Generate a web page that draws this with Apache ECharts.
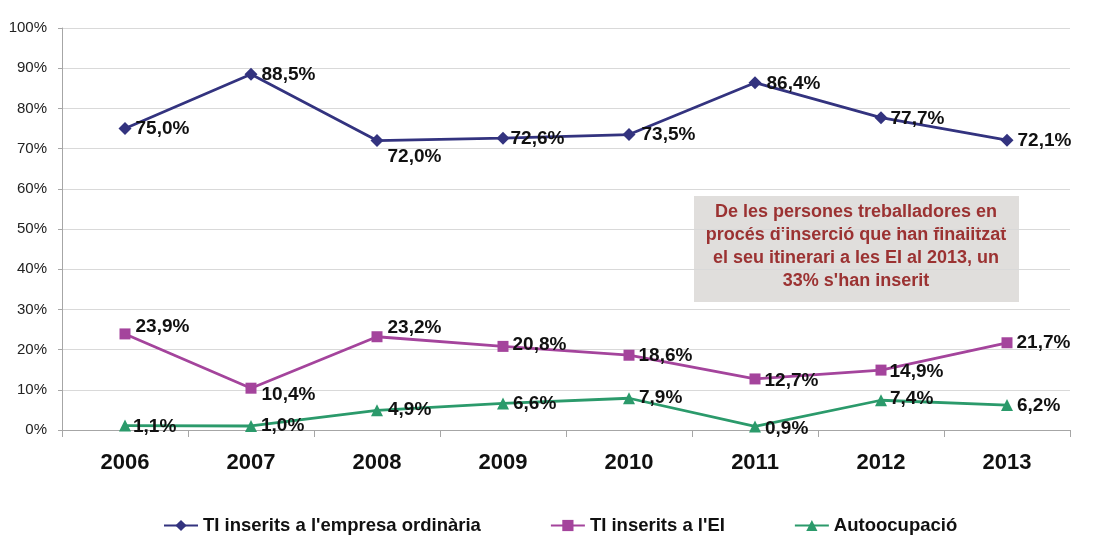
<!DOCTYPE html>
<html>
<head>
<meta charset="utf-8">
<script src="https://cdn.jsdelivr.net/npm/echarts@6/dist/echarts.min.js"></script>
<style>
  html, body { margin: 0; padding: 0; background: #fff; }
  #chart { width: 1097px; height: 540px; }
</style>
</head>
<body>
<div id="chart"></div>
<script>
const years = ['2006', '2007', '2008', '2009', '2010', '2011', '2012', '2013']
const empresaOrdinaria = [75.0, 88.5, 72.0, 72.6, 73.5, 86.4, 77.7, 72.1]
const inseritsEI = [23.9, 10.4, 23.2, 20.8, 18.6, 12.7, 14.9, 21.7]
const autoocupacio = [1.1, 1.0, 4.9, 6.6, 7.9, 0.9, 7.4, 6.2]

// label nudges per point [dx, dy]
const offBlue = [[0, 0], [0, 1], [0, 16], [-3, 1], [2, 0], [1, 1], [-1, 1], [0, 1]]
const offPink = [[1, -7], [1, 7], [1, -9], [0, -2], [0, 1], [0, 2], [-1, 2], [0, 0]]
const offGreen = [[-2, 1], [0, 0], [1, -1], [0, 0], [0, 0], [0, 2], [-1, -1], [0, 1]]

const fmt = v => v.toFixed(1).replace('.', ',') + '%'

function points(values, offsets) {
  return values.map((v, i) => ({
    value: v,
    label: { offset: offsets[i] }
  }))
}

const labelStyle = {
  show: true,
  position: 'right',
  distance: 4,
  color: '#111',
  fontFamily: 'Liberation Sans, Arial, sans-serif',
  fontWeight: 'bold',
  fontSize: 19,
  formatter: p => fmt(p.value)
}

function line(name, values, offsets, color, symbol, size) {
  return {
    name,
    type: 'line',
    data: points(values, offsets),
    symbol,
    symbolSize: size,
    showAllSymbol: true,
    lineStyle: { color, width: 2.8 },
    itemStyle: { color },
    label: labelStyle,
    z: 3
  }
}

const chart = echarts.init(document.getElementById('chart'))
chart.setOption({
  animation: false,
  textStyle: { fontFamily: 'Liberation Sans, Arial, sans-serif' },
  grid: { left: 62, right: 27, top: 28, bottom: 110 },
  xAxis: {
    type: 'category',
    data: years,
    boundaryGap: true,
    axisLine: { lineStyle: { color: '#a6a6a6', width: 1 } },
    axisTick: { show: true, length: 7, lineStyle: { color: '#a6a6a6' } },
    axisLabel: { color: '#111', fontSize: 22, fontWeight: 'bold', margin: 22 }
  },
  yAxis: {
    type: 'value',
    min: 0,
    max: 100,
    interval: 10,
    axisLine: { show: true, lineStyle: { color: '#a6a6a6' } },
    axisTick: { show: true, length: 4, lineStyle: { color: '#a6a6a6' } },
    splitLine: { lineStyle: { color: '#d9d9d9' } },
    axisLabel: { color: '#222', fontSize: 15, margin: 15, formatter: '{value}%' }
  },
  legend: {
    bottom: 0,
    left: 158,
    itemGap: 69,
    itemWidth: 34,
    itemHeight: 14,
    textStyle: { color: '#111', fontSize: 18.5, fontWeight: 'bold' },
    data: ["TI inserits a l'empresa ordinària", "TI inserits a l'EI", 'Autoocupació']
  },
  graphic: [{
    type: 'group',
    left: 694,
    top: 196,
    children: [{
      type: 'rect',
      shape: { x: 0, y: 0, width: 325, height: 106 },
      style: { fill: '#e0dedc' }
    }, {
      type: 'text',
      x: 162,
      y: 51,
      style: {
        text: "De les persones treballadores en\nprocés d'inserció que han finalitzat\nel seu itinerari a les EI al 2013, un\n33% s'han inserit",
        fill: '#9b3232',
        font: 'bold 18px "Liberation Sans", Arial, sans-serif',
        lineHeight: 23,
        align: 'center',
        verticalAlign: 'middle'
      }
    }]
  }],
  series: [
    line("TI inserits a l'empresa ordinària", empresaOrdinaria, offBlue, '#33337f', 'diamond', 13),
    line("TI inserits a l'EI", inseritsEI, offPink, '#a4449c', 'rect', 11),
    line('Autoocupació', autoocupacio, offGreen, '#2b9a6b', 'triangle', 12)
  ]
})
</script>
</body>
</html>
